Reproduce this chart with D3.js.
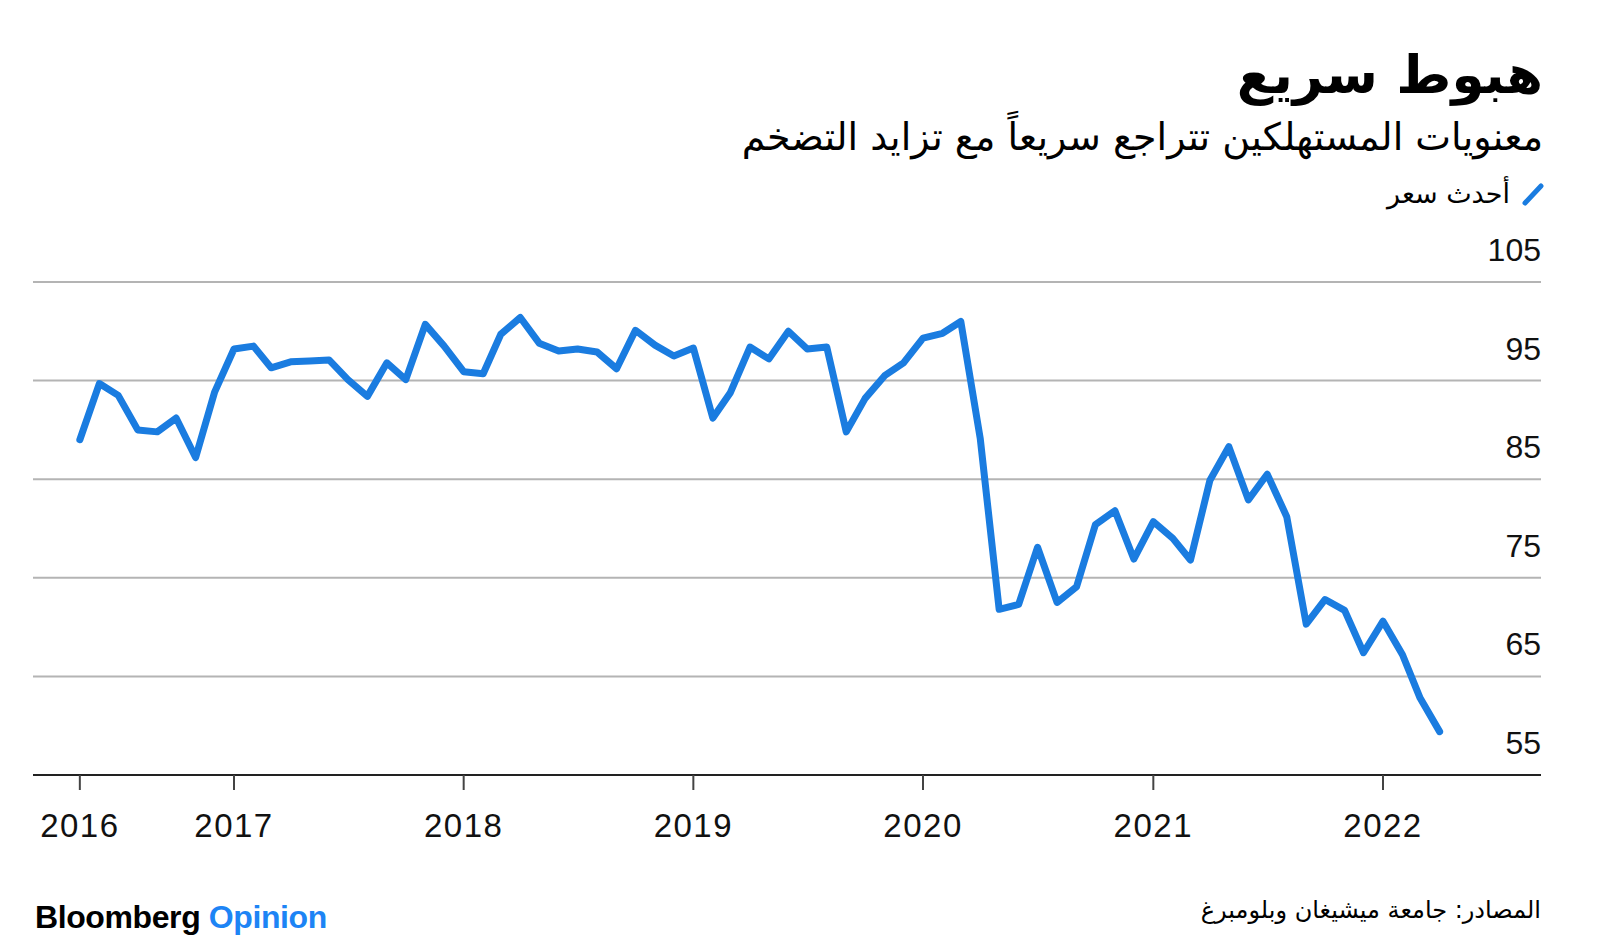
<!DOCTYPE html>
<html>
<head>
<meta charset="utf-8">
<script src="https://cdn.jsdelivr.net/npm/d3@7"></script>
<style>
  body { margin: 0; background: #fff; }
  text { font-family: "Liberation Sans", Arial, sans-serif; }
  .ar { font-family: "DejaVu Sans", "Noto Sans", sans-serif; }
</style>
</head>
<body>
<svg width="1600" height="944"></svg>
<script>
// University of Michigan consumer sentiment, monthly, Apr 2016 - Mar 2022
const startYear = 2016, startMonth = 4;
const values = [
    89.0, 94.7, 93.5, 90.0, 89.8, 91.2, 87.2, 93.8, 98.2,
    98.5, 96.3, 96.9, 97.0, 97.1, 95.1, 93.4, 96.8, 95.1, 100.7, 98.5, 95.9,
    95.7, 99.7, 101.4, 98.8, 98.0, 98.2, 97.9, 96.2, 100.1, 98.6, 97.5, 98.3,
    91.2, 93.8, 98.4, 97.2, 100.0, 98.2, 98.4, 89.8, 93.2, 95.5, 96.8, 99.3,
    99.8, 101.0, 89.1, 71.8, 72.3, 78.1, 72.5, 74.1, 80.4, 81.8, 76.9, 80.7,
    79.0, 76.8, 84.9, 88.3, 82.9, 85.5, 81.2, 70.3, 72.8, 71.7, 67.4, 70.6,
    67.2, 62.8, 59.4
];
const yTicks = [55, 65, 75, 85, 95, 105];
const xTickYears = [2017, 2018, 2019, 2020, 2021, 2022];

const title = "هبوط سريع";
const subtitle = "معنويات المستهلكين تتراجع سريعاً مع تزايد التضخم";
const legendLabel = "أحدث سعر";
const source = "المصادر: جامعة ميشيغان وبلومبرغ";

// each monthly value is dated at the end of its month
const data = values.map((v, i) => ({
    date: new Date(startYear, startMonth - 1 + i + 1, 1),
    value: v
}));

const blue = "#1a7ce0";
const left = 33, right = 1541;

const svg = d3.select("svg");

const x = d3.scaleTime()
    .domain([new Date(2017, 0, 1), new Date(2022, 0, 1)])
    .range([234, 1383]);

const y = d3.scaleLinear()
    .domain([55, 105])
    .range([775, 282]);

// header
svg.append("text")
    .attr("class", "ar")
    .attr("x", right + 2)
    .attr("y", 93)
    .attr("text-anchor", "end")
    .attr("font-size", 53)
    .attr("font-weight", "bold")
    .attr("fill", "#000")
    .text(title);

svg.append("text")
    .attr("class", "ar")
    .attr("x", right + 2)
    .attr("y", 150)
    .attr("text-anchor", "end")
    .attr("font-size", 38)
    .attr("fill", "#000")
    .text(subtitle);

svg.append("line")
    .attr("x1", 1525).attr("y1", 203)
    .attr("x2", 1541).attr("y2", 186)
    .attr("stroke", blue)
    .attr("stroke-width", 5)
    .attr("stroke-linecap", "round");

svg.append("text")
    .attr("class", "ar")
    .attr("x", 1510)
    .attr("y", 203)
    .attr("text-anchor", "end")
    .attr("font-size", 27)
    .attr("fill", "#000")
    .text(legendLabel);

// grid lines + right labels
svg.append("g")
    .selectAll("line")
    .data(yTicks.filter(d => d !== 55))
    .join("line")
    .attr("x1", left).attr("x2", right)
    .attr("y1", d => y(d)).attr("y2", d => y(d))
    .attr("stroke", "#b4b4b4")
    .attr("stroke-width", 2);

svg.append("g")
    .selectAll("text")
    .data(yTicks)
    .join("text")
    .attr("x", right)
    .attr("y", d => y(d) - 21)
    .attr("text-anchor", "end")
    .attr("font-size", 32)
    .attr("fill", "#111")
    .text(d => d);

// x axis
const xTicks = [{ date: data[0].date, label: "2016" }]
    .concat(xTickYears.map(yr => ({ date: new Date(yr, 0, 1), label: String(yr) })));

svg.append("line")
    .attr("x1", left).attr("x2", right)
    .attr("y1", y(55)).attr("y2", y(55))
    .attr("stroke", "#222")
    .attr("stroke-width", 2);

const tick = svg.append("g")
    .selectAll("g")
    .data(xTicks)
    .join("g")
    .attr("transform", d => `translate(${x(d.date)},0)`);

tick.append("line")
    .attr("y1", y(55)).attr("y2", y(55) + 15)
    .attr("stroke", "#444")
    .attr("stroke-width", 2);

tick.append("text")
    .attr("y", 837)
    .attr("text-anchor", "middle")
    .attr("font-size", 33)
    .attr("letter-spacing", 1.5)
    .attr("fill", "#111")
    .text(d => d.label);

// series
const line = d3.line()
    .x(d => x(d.date))
    .y(d => y(d.value));

svg.append("path")
    .datum(data)
    .attr("d", line)
    .attr("fill", "none")
    .attr("stroke", blue)
    .attr("stroke-width", 7)
    .attr("stroke-linejoin", "round")
    .attr("stroke-linecap", "round");

// footer
const brand = svg.append("text")
    .attr("x", 35)
    .attr("y", 928)
    .attr("font-size", 32)
    .attr("font-weight", "bold")
    .attr("letter-spacing", -0.4);
brand.append("tspan").attr("fill", "#000").text("Bloomberg ");
brand.append("tspan").attr("fill", "#1d84f5").text("Opinion");

svg.append("text")
    .attr("class", "ar")
    .attr("x", right)
    .attr("y", 918)
    .attr("text-anchor", "end")
    .attr("font-size", 24)
    .attr("fill", "#000")
    .text(source);
</script>
</body>
</html>
